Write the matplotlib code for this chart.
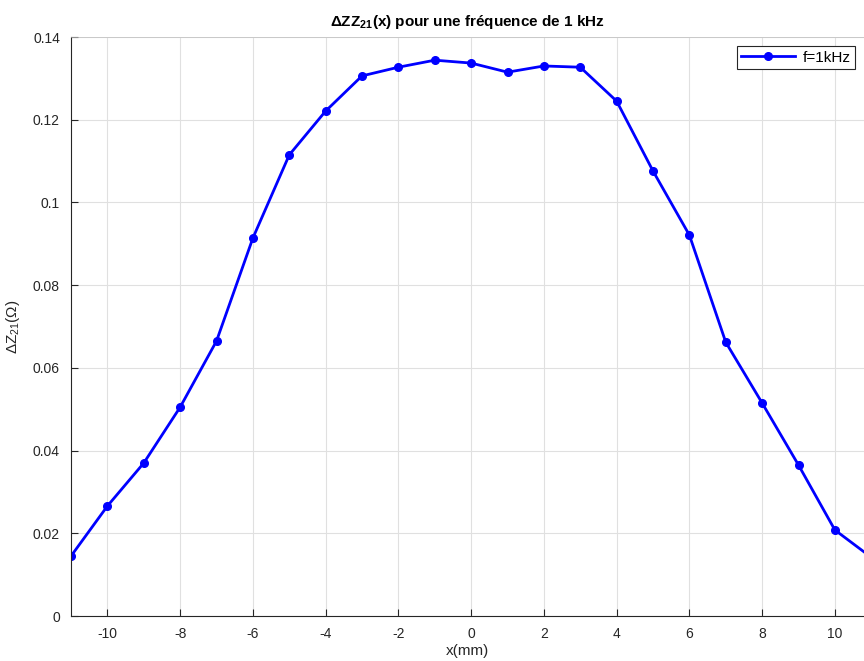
import matplotlib.pyplot as plt
import numpy as np

x_mm = [-11, -10, -9, -8, -7, -6, -5, -4, -3, -2, -1, 0, 1, 2, 3, 4, 5, 6, 7, 8, 9, 10, 11]
dz21 = [0.0145, 0.0266, 0.0370, 0.0505, 0.0665, 0.0914, 0.1115, 0.1221, 0.1306, 0.1327,
        0.1344, 0.1337, 0.1315, 0.1330, 0.1327, 0.1245, 0.1076, 0.0921, 0.0662, 0.0515,
        0.0365, 0.0208, 0.0142]
xticks = [-10, -8, -6, -4, -2, 0, 2, 4, 6, 8, 10]
yticks = [0, 0.02, 0.04, 0.06, 0.08, 0.1, 0.12, 0.14]
ytick_labels = ['0', '0.02', '0.04', '0.06', '0.08', '0.1', '0.12', '0.14']


def main():
	plt.rcParams['font.family'] = ['Liberation Sans', 'DejaVu Sans']
	plt.rcParams['axes.unicode_minus'] = False
	plt.rcParams['mathtext.fontset'] = 'custom'
	plt.rcParams['mathtext.rm'] = 'Liberation Sans'
	plt.rcParams['mathtext.it'] = 'Liberation Sans'
	plt.rcParams['mathtext.bf'] = 'Liberation Sans:bold'

	fig = plt.figure(figsize=(8.64, 6.61), dpi=100)
	ax = fig.add_axes([0.0822, 0.068, 0.9178, 0.876])

	ax.plot(x_mm, dz21, color='#0000ff', lw=2, marker='o', ms=5.5, label='f=1kHz')

	ax.set_xlim(-11, 10.8)
	ax.set_ylim(0, 0.14)
	ax.set_xticks(xticks)
	ax.set_yticks(yticks)
	ax.set_yticklabels(ytick_labels)
	ax.grid(True, color='#e0e0e0', lw=0.8)
	ax.set_axisbelow(True)

	ax.tick_params(direction='in', length=5, width=0.8, colors='#262626', labelsize=10, pad=8)
	for side in ['left', 'bottom']:
		ax.spines[side].set_color('#262626')
	for side in ['top', 'right']:
		ax.spines[side].set_color('#bfbfbf')
		ax.spines[side].set_linewidth(0.5)

	ax.set_xlabel('x(mm)', fontsize=11, color='#262626', labelpad=2)
	ax.set_ylabel(r'ΔZ$_{\mathrm{21}}$(Ω)', fontsize=11, color='#262626', labelpad=8)
	ax.set_title(r'ΔZZ$_{\mathbf{21}}$(x) pour une fréquence de 1 kHz',
		fontsize=11, fontweight='bold', pad=8)

	leg = ax.legend(loc='upper right', fontsize=11, fancybox=False, framealpha=1,
		edgecolor='#262626', borderpad=0.3, handlelength=3.5, handletextpad=0.5,
		borderaxespad=0.6)
	leg.get_frame().set_linewidth(0.8)

	fig.savefig('out.png', dpi=100)


if __name__ == '__main__':
	main()
